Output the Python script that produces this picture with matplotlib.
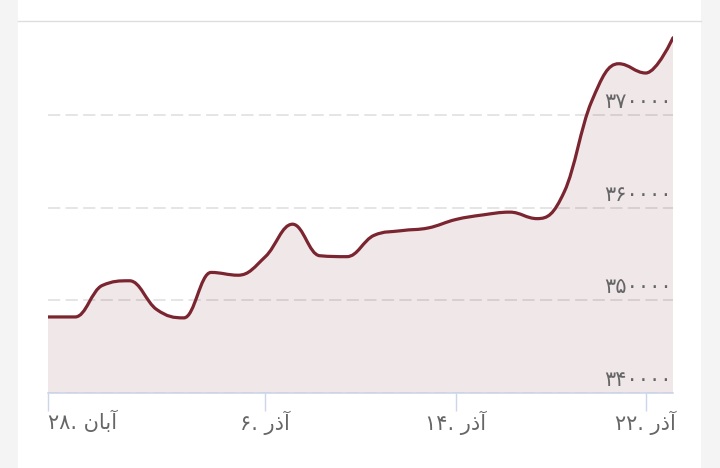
import matplotlib.pyplot as plt
from matplotlib.path import Path
from matplotlib.patches import PathPatch, Rectangle
from matplotlib.lines import Line2D
from matplotlib import transforms

# Precios (un punto por día de mercado)
prices = [348200, 348200, 351600, 352100, 349000, 348100, 353000, 352700,
          354700, 358200, 354800, 354700, 357000, 357500, 357800, 358700,
          359200, 359500, 358800, 361700, 371400, 375500, 374500, 378300]

# Etiquetas del eje x (formas de presentación árabes, orden visual)
ABAN = '\uFEE5\uFE8E\uFE91\uFE81'   # آبان
AZAR = '\uFEAD\uFEAB\uFE81'         # آذر
tick_idx = [0, 8, 15, 22]
tick_labels = ['۲۸. ' + ABAN, '۶. ' + AZAR, '۱۴. ' + AZAR, '۲۲. ' + AZAR]

y_ticks = [340000, 350000, 360000, 370000]
y_min, y_max = 340000, 380000

line_color = '#7a2530'
axis_color = '#ccd6eb'
text_color = '#666666'

fa_digits = str.maketrans('0123456789', '۰۱۲۳۴۵۶۷۸۹')


def spline_path(xs, ys, base=None):
    # curva tipo "spline" de Highcharts (suavizado 1.5)
    sm = 1.5
    d = sm + 1
    n = len(xs)
    lc = [(xs[i], ys[i]) for i in range(n)]
    rc = [(xs[i], ys[i]) for i in range(n)]
    for i in range(1, n - 1):
        x, y = xs[i], ys[i]
        lx, ly = xs[i - 1], ys[i - 1]
        nx, ny = xs[i + 1], ys[i + 1]
        lcx, lcy = (sm * x + lx) / d, (sm * y + ly) / d
        rcx, rcy = (sm * x + nx) / d, (sm * y + ny) / d
        corr = ((rcy - lcy) * (rcx - x)) / (rcx - lcx) + y - rcy
        lcy += corr
        rcy += corr
        if lcy > ly and lcy > y:
            lcy = max(ly, y)
            rcy = 2 * y - lcy
        elif lcy < ly and lcy < y:
            lcy = min(ly, y)
            rcy = 2 * y - lcy
        if rcy > ny and rcy > y:
            rcy = max(ny, y)
            lcy = 2 * y - rcy
        elif rcy < ny and rcy < y:
            rcy = min(ny, y)
            lcy = 2 * y - rcy
        lc[i] = (lcx, lcy)
        rc[i] = (rcx, rcy)
    verts = [(xs[0], ys[0])]
    codes = [Path.MOVETO]
    for i in range(1, n):
        verts += [rc[i - 1], lc[i], (xs[i], ys[i])]
        codes += [Path.CURVE4] * 3
    if base is not None:
        verts += [(xs[-1], base), (xs[0], base), (xs[0], ys[0])]
        codes += [Path.LINETO, Path.LINETO, Path.CLOSEPOLY]
    return Path(verts, codes)


fig = plt.figure(figsize=(7.2, 4.68), dpi=100)
fig.patch.set_facecolor('#f4f4f4')

# tarjeta blanca y línea superior
fig.add_artist(Rectangle((18 / 720, 0), 683 / 720, 1, transform=fig.transFigure,
                         facecolor='white', edgecolor='none', zorder=0))
fig.add_artist(Line2D([18 / 720, 701 / 720], [1 - 21 / 468, 1 - 21 / 468],
                      transform=fig.transFigure, color='#dedede', linewidth=1))

ax = fig.add_axes([48 / 720, 75 / 468, 625 / 720, 371 / 468])
ax.set_facecolor('none')

xs = list(range(len(prices)))
ax.add_patch(PathPatch(spline_path(xs, prices, base=y_min), facecolor=line_color,
                       alpha=0.11, edgecolor='none', zorder=2))
ax.add_patch(PathPatch(spline_path(xs, prices), facecolor='none', edgecolor=line_color,
                       linewidth=2.3, capstyle='round', joinstyle='round', zorder=3))

ax.set_xlim(0, len(prices) - 1)
ax.set_ylim(y_min, y_max)

# rejilla
ax.set_yticks(y_ticks)
ax.tick_params(axis='y', left=False, labelleft=False)
ax.grid(axis='y', color='#dedede', linewidth=1.1, linestyle=(0, (8, 3.5)), zorder=1)
ax.set_axisbelow(True)

# etiquetas del eje y dentro del gráfico
offset = transforms.offset_copy(ax.get_yaxis_transform(), fig=fig, x=-1, y=2, units='points')
for v in y_ticks:
    ax.text(1.0, v, str(v).translate(fa_digits), transform=offset, ha='right', va='bottom',
            fontsize=15, color=text_color, family='DejaVu Sans', zorder=4)

# eje x
for side in ['left', 'right', 'top']:
    ax.spines[side].set_visible(False)
ax.spines['bottom'].set_color(axis_color)
ax.spines['bottom'].set_linewidth(1.2)
ax.set_xticks(tick_idx, tick_labels)
ax.tick_params(axis='x', length=13, width=1, color=axis_color, pad=0,
               labelsize=15, labelcolor=text_color)
ax.get_xticklabels()[0].set_horizontalalignment('left')

plt.savefig('out.png', dpi=100, facecolor=fig.get_facecolor())
